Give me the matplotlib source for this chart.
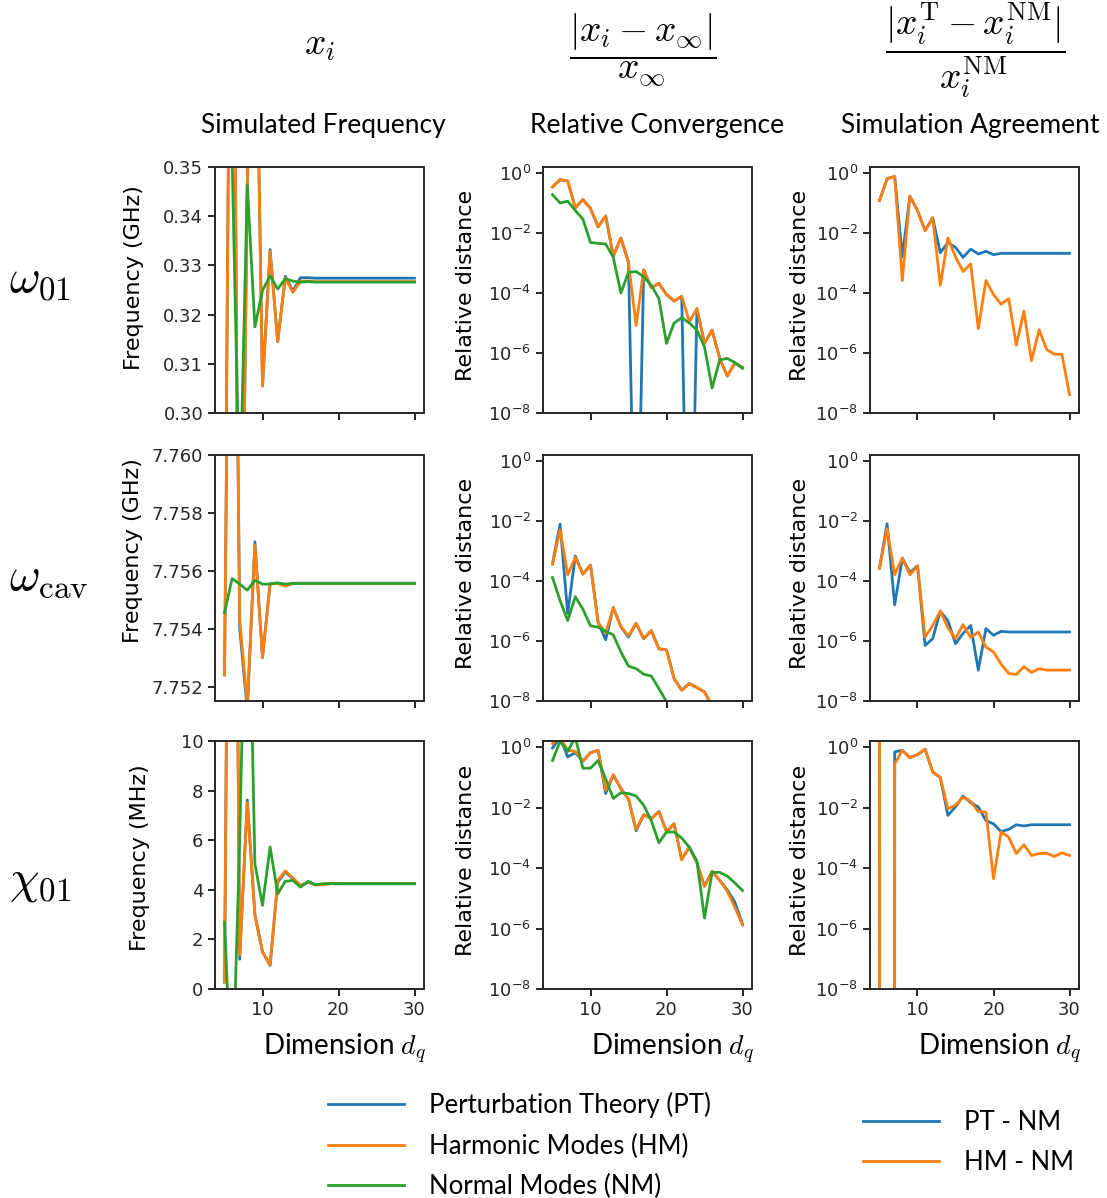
import numpy as np
import matplotlib
matplotlib.use("Agg")
from matplotlib import pyplot as plt

plt.rcParams['mathtext.fontset'] = 'cm'
plt.rcParams['axes.edgecolor'] = '#262626'
plt.rcParams['axes.linewidth'] = 1.4
plt.rcParams['xtick.color'] = '#262626'
plt.rcParams['ytick.color'] = '#262626'
plt.rcParams['xtick.major.width'] = 1.4
plt.rcParams['ytick.major.width'] = 1.4
plt.rcParams['xtick.major.size'] = 5
plt.rcParams['ytick.major.size'] = 5
plt.rcParams['xtick.labelsize'] = 13
plt.rcParams['ytick.labelsize'] = 13

dims = list(range(5, 31))

# omega_01 simulated frequency (GHz)
w01_pt = [0.25, 0.449, 0.219, 0.347, 0.40, 0.3055, 0.3332, 0.3145, 0.3278, 0.3248, 0.3275, 0.3275, 0.3274,
          0.3274, 0.3274, 0.3274, 0.3274, 0.3274, 0.3274, 0.3274, 0.3274, 0.3274, 0.3274, 0.3274, 0.3274, 0.3274]
w01_hm = [0.25, 0.449, 0.219, 0.347, 0.40, 0.3055, 0.3328, 0.3145, 0.3275, 0.3245, 0.3268, 0.3268, 0.3267,
          0.3267, 0.3267, 0.3267, 0.3267, 0.3267, 0.3267, 0.3267, 0.3267, 0.3267, 0.3267, 0.3267, 0.3267, 0.3267]
w01_nm = [0.37, 0.352, 0.28, 0.3464, 0.3175, 0.3249, 0.3279, 0.3252, 0.3273, 0.3268, 0.3266, 0.3267, 0.3266,
          0.3266, 0.3266, 0.3266, 0.3266, 0.3266, 0.3266, 0.3266, 0.3266, 0.3266, 0.3266, 0.3266, 0.3266, 0.3266]

# omega_cav simulated frequency (GHz)
wcav_pt = [7.7524, 7.780, 7.7540, 7.7512, 7.7570, 7.7530, 7.75556, 7.75557, 7.75548, 7.75557, 7.75557, 7.75557,
           7.75557, 7.75557, 7.75557, 7.75557, 7.75557, 7.75557, 7.75557, 7.75557, 7.75557, 7.75557, 7.75557,
           7.75557, 7.75557, 7.75557]
wcav_hm = [7.7524, 7.780, 7.7543, 7.7514, 7.7569, 7.7530, 7.75554, 7.75556, 7.75547, 7.75556, 7.75556, 7.75556,
           7.75556, 7.75556, 7.75556, 7.75556, 7.75556, 7.75556, 7.75556, 7.75556, 7.75556, 7.75556, 7.75556,
           7.75556, 7.75556, 7.75556]
wcav_nm = [7.75455, 7.75573, 7.75554, 7.75533, 7.75567, 7.75554, 7.75554, 7.75558, 7.75554, 7.75556, 7.75556,
           7.75556, 7.75556, 7.75556, 7.75556, 7.75556, 7.75556, 7.75556, 7.75556, 7.75556, 7.75556, 7.75556,
           7.75556, 7.75556, 7.75556, 7.75556]

# chi_01 simulated frequency (MHz)
chi_pt = [0.28, 40.0, 1.2, 7.62, 3.0, 1.5, 0.95, 4.3, 4.72, 4.45, 4.17, 4.3, 4.2, 4.22, 4.25,
          4.24, 4.24, 4.24, 4.24, 4.24, 4.24, 4.24, 4.24, 4.24, 4.24, 4.24]
chi_hm = [0.28, 40.0, 1.36, 7.5, 2.97, 1.49, 0.98, 4.38, 4.76, 4.48, 4.18, 4.31, 4.2, 4.2, 4.27,
          4.25, 4.25, 4.25, 4.25, 4.25, 4.25, 4.25, 4.25, 4.25, 4.25, 4.25]
chi_nm = [2.7, -4.5, 6.0, 20.0, 5.05, 3.37, 5.73, 3.84, 4.34, 4.38, 4.11, 4.34, 4.2, 4.25, 4.25,
          4.25, 4.25, 4.25, 4.25, 4.25, 4.25, 4.25, 4.25, 4.25, 4.25, 4.25]

# relative convergence
w01_conv_pt = [3.4e-1, 6.0e-1, 5.4e-1, 6.9e-2, 1.3e-1, 6.6e-2, 1.6e-2, 3.7e-2, 1.7e-3, 6.8e-3, 1.05e-3, 3e-16,
               5.9e-4, 1.5e-4, 2.1e-4, 8.9e-5, 5.4e-5, 7.8e-5, 1e-17, 3.0e-5, 2.1e-6, 5.8e-6, 6.6e-7, 1.7e-7,
               4.6e-7, 3.3e-7]
w01_conv_hm = [3.4e-1, 6.0e-1, 5.4e-1, 6.9e-2, 1.3e-1, 6.6e-2, 1.6e-2, 3.7e-2, 1.7e-3, 6.8e-3, 1.05e-3, 8.3e-6,
               5.9e-4, 1.5e-4, 2.1e-4, 8.9e-5, 5.4e-5, 7.8e-5, 1.1e-5, 3.0e-5, 2.1e-6, 5.8e-6, 6.6e-7, 1.7e-7,
               4.6e-7, 3.3e-7]
w01_conv_nm = [1.9e-1, 1.0e-1, 1.15e-1, 5.6e-2, 2.9e-2, 4.8e-3, 4.5e-3, 4.3e-3, 1.55e-3, 1.0e-4, 4.9e-4, 5.2e-4,
               3.5e-4, 1.8e-4, 6.5e-5, 2.1e-6, 1.0e-5, 1.5e-5, 1.0e-5, 5.8e-6, 1.6e-6, 6.8e-8, 5.9e-7, 6.6e-7,
               4.8e-7, 3.1e-7]

wcav_conv_pt = [3.7e-4, 7.9e-3, 8.3e-6, 6.8e-4, 1.7e-4, 3.4e-4, 4.2e-6, 1.1e-6, 1.3e-5, 3.0e-6, 1.35e-6, 3.9e-6,
                1.2e-6, 2.2e-6, 5.5e-7, 5.1e-7, 5.6e-8, 2.3e-8, 3.8e-8, 2.8e-8, 2.0e-8, 7e-9, 4e-9, 2.5e-9,
                1.5e-9, 1e-9]
wcav_conv_hm = [3.7e-4, 5.1e-3, 1.6e-4, 6.2e-4, 1.7e-4, 3.4e-4, 4.2e-6, 1.8e-6, 1.3e-5, 3.0e-6, 1.5e-6, 3.9e-6,
                1.2e-6, 2.2e-6, 5.5e-7, 5.1e-7, 5.6e-8, 2.3e-8, 3.8e-8, 2.8e-8, 2.0e-8, 7e-9, 4e-9, 2.5e-9,
                1.5e-9, 1e-9]
wcav_conv_nm = [1.3e-4, 2.2e-5, 4.8e-6, 3.0e-5, 1.15e-5, 3.2e-6, 2.9e-6, 2.1e-6, 1.6e-6, 4.3e-7, 1.45e-7, 1.2e-7,
                7.8e-8, 6.8e-8, 2.6e-8, 9.5e-9, 5e-9, 3e-9, 2e-9, 1.2e-9, 8e-10, 5e-10, 3e-10, 2e-10,
                1.2e-10, 8e-11]

chi_conv_pt = [9.3e-1, 2.1, 4.7e-1, 6.5e-1, 3.4e-1, 6.5e-1, 7.8e-1, 2.9e-2, 1.2e-1, 4.2e-2, 1.9e-2, 1.7e-3,
               5.8e-3, 4.3e-3, 7.4e-3, 1.6e-3, 2.9e-3, 1.9e-4, 4.9e-4, 1.5e-4, 2.5e-5, 7.8e-5, 3.9e-5, 1.9e-5,
               7.4e-6, 1.4e-6]
chi_conv_hm = [1.3, 2.1, 7.8e-1, 7.2e-1, 3.4e-1, 6.5e-1, 7.8e-1, 3.7e-2, 1.2e-1, 4.2e-2, 1.9e-2, 1.9e-3,
               5.8e-3, 4.3e-3, 7.4e-3, 1.6e-3, 2.9e-3, 1.9e-4, 4.9e-4, 1.5e-4, 2.5e-5, 7.8e-5, 3.9e-5, 1.7e-5,
               5.0e-6, 1.3e-6]
chi_conv_nm = [3.6e-1, 1.55, 7.2e-1, 2.1, 2.0e-1, 2.0e-1, 3.6e-1, 8.9e-2, 2.0e-2, 3.1e-2, 2.9e-2, 2.4e-2,
               1.2e-2, 3.7e-3, 6.8e-4, 1.55e-3, 1.55e-3, 9.8e-4, 4.9e-4, 1.7e-4, 2.2e-6, 7.2e-5, 7.2e-5, 5.4e-5,
               3.2e-5, 1.8e-5]

# simulation agreement with normal modes
w01_agree_pt = [1.2e-1, 6.5e-1, 7.6e-1, 1.6e-3, 1.7e-1, 5.6e-2, 1.2e-2, 3.2e-2, 2.2e-3, 4.8e-3, 3.3e-3, 1.55e-3,
                2.9e-3, 2.0e-3, 2.45e-3, 1.9e-3, 2.1e-3, 2.1e-3, 2.1e-3, 2.1e-3, 2.1e-3, 2.1e-3, 2.1e-3, 2.1e-3,
                2.1e-3, 2.1e-3]
w01_agree_hm = [1.2e-1, 6.5e-1, 7.6e-1, 2.6e-4, 1.7e-1, 5.6e-2, 1.2e-2, 3.2e-2, 1.8e-4, 6.8e-3, 1.6e-3, 5.2e-4,
                9.3e-4, 6.5e-6, 2.6e-4, 8.9e-5, 4.2e-5, 6.5e-5, 1.8e-6, 2.5e-5, 5.5e-7, 6.0e-6, 1.3e-6, 9.1e-7,
                9.1e-7, 4.1e-8]

wcav_agree_pt = [2.7e-4, 8.1e-3, 1.6e-5, 5.8e-4, 1.9e-4, 3.2e-4, 7.1e-7, 1.2e-6, 9.8e-6, 4.8e-6, 8.1e-7, 1.8e-6,
                 3.3e-6, 1.07e-7, 2.6e-6, 1.55e-6, 2.1e-6, 2.0e-6, 2.0e-6, 2.0e-6, 2.0e-6, 2.0e-6, 2.0e-6,
                 2.0e-6, 2.0e-6, 2.0e-6]
wcav_agree_hm = [2.7e-4, 5.6e-3, 1.6e-4, 5.8e-4, 1.6e-4, 3.2e-4, 1.35e-6, 3.3e-6, 1.0e-5, 2.75e-6, 1.2e-6, 3.5e-6,
                 1.3e-6, 2.0e-6, 6.3e-7, 4.3e-7, 1.7e-7, 8.3e-8, 7.6e-8, 1.4e-7, 8.9e-8, 1.2e-7, 1.07e-7,
                 1.07e-7, 1.07e-7, 1.07e-7]

chi_agree_pt = [3.0, 0.0, 6.9e-1, 7.8e-1, 4.5e-1, 5.6e-1, 8.5e-1, 1.5e-1, 9.8e-2, 5.5e-3, 1.05e-2, 2.4e-2,
                1.45e-2, 1.05e-2, 3.7e-3, 2.9e-3, 1.6e-3, 1.9e-3, 2.7e-3, 2.45e-3, 2.7e-3, 2.7e-3, 2.7e-3,
                2.7e-3, 2.7e-3, 2.7e-3]
chi_agree_hm = [3.0, 0.0, 2.8e-1, 7.8e-1, 4.5e-1, 5.6e-1, 8.5e-1, 1.5e-1, 9.8e-2, 9.1e-3, 1.2e-2, 2.2e-2,
                1.6e-2, 7.4e-3, 7.1e-3, 4.4e-5, 1.55e-3, 1.05e-3, 3.0e-4, 5.9e-4, 2.6e-4, 3.0e-4, 3.1e-4,
                2.4e-4, 3.2e-4, 2.6e-4]

freq_data = [(w01_pt, w01_hm, w01_nm), (wcav_pt, wcav_hm, wcav_nm), (chi_pt, chi_hm, chi_nm)]
conv_data = [(w01_conv_pt, w01_conv_hm, w01_conv_nm), (wcav_conv_pt, wcav_conv_hm, wcav_conv_nm),
             (chi_conv_pt, chi_conv_hm, chi_conv_nm)]
agree_data = [(w01_agree_pt, w01_agree_hm), (wcav_agree_pt, wcav_agree_hm), (chi_agree_pt, chi_agree_hm)]

freq_labels = ['Frequency (GHz)', 'Frequency (GHz)', 'Frequency (MHz)']
freq_lims = [(0.30, 0.35), (7.7515, 7.760), (0, 10)]
freq_ticks = [[0.30, 0.31, 0.32, 0.33, 0.34, 0.35], [7.752, 7.754, 7.756, 7.758, 7.760], [0, 2, 4, 6, 8, 10]]
freq_fmt = ['{:.2f}', '{:.3f}', '{:.0f}']
freq_pad = [14, 6, 22]
freq_label_y = [0.55, 0.61, 0.53]
row_names = [r'$\omega_{01}$', r'$\omega_{\rm cav}$', r'$\chi_{01}$']

W, H = 1107, 1198
fig = plt.figure(figsize=(W / 100, H / 100), dpi=100)

col_left = [215, 543, 870]
col_w = 209
row_top = [167, 455, 741]
row_h = [246, 246, 248]
colors = ['C0', 'C1', 'C2']
lw = 2.0

for r in range(3):
    axes = []
    for c in range(3):
        ax = fig.add_axes([col_left[c] / W, 1 - (row_top[r] + row_h[r]) / H, col_w / W, row_h[r] / H])
        axes.append(ax)
    # column 1: frequencies
    ax = axes[0]
    for k, ys in enumerate(freq_data[r]):
        ax.plot(dims, ys, color=colors[k], lw=lw)
    ax.set_ylim(*freq_lims[r])
    ax.set_yticks(freq_ticks[r])
    ax.set_yticklabels([freq_fmt[r].format(t) for t in freq_ticks[r]])
    ax.set_ylabel(freq_labels[r], fontsize=16, labelpad=freq_pad[r], y=freq_label_y[r])
    # column 2: convergence
    ax = axes[1]
    for k, ys in enumerate(conv_data[r]):
        ax.plot(dims, ys, color=colors[k], lw=lw)
    # column 3: agreement
    ax = axes[2]
    for k, ys in enumerate(agree_data[r]):
        ax.plot(dims, ys, color=colors[k], lw=lw)
    for c, ax in enumerate(axes[1:]):
        ax.set_yscale('log')
        ax.set_ylim(1e-8, 10 ** 0.2)
        ax.set_yticks([1e-8, 1e-6, 1e-4, 1e-2, 1e0])
        ax.yaxis.set_minor_locator(matplotlib.ticker.NullLocator())
        ax.set_ylabel('Relative distance', fontsize=16, labelpad=[9, 4][c], y=0.52)
    for ax in axes:
        ax.set_xlim(3.75, 31.25)
        ax.set_xticks([10, 20, 30])
        ax.tick_params(direction='out')
        if r < 2:
            ax.tick_params(labelbottom=False)
        else:
            ax.set_xlabel(r'Dimension $d_q$', fontsize=20, family='Lato', labelpad=9, x=0.62)
    fig.text(9 / W, 1 - [280, 577, 882][r] / H, row_names[r], fontsize=34,
             ha='left', va='center')

# column headers
fig.text(320 / W, 1 - 45 / H, r'$x_i$', fontsize=27, ha='center', va='center')
fig.text(643 / W, 1 - 50 / H, r'$\dfrac{|x_i - x_\infty|}{x_\infty}$', fontsize=27, ha='center', va='center')
fig.text(975 / W, 1 - 50 / H, r'$\dfrac{|x_i^{\rm T} - x_i^{\rm NM}|}{x_i^{\rm NM}}$', fontsize=27,
         ha='center', va='center')
for xc, txt in zip([323, 657, 970], ['Simulated Frequency', 'Relative Convergence', 'Simulation Agreement']):
    fig.text(xc / W, 1 - 125 / H, txt, fontsize=19, family='Lato', ha='center', va='center')

# legends
h1 = [plt.Line2D([], [], color=c, lw=lw) for c in colors]
fig.legend(h1, ['Perturbation Theory (PT)', 'Harmonic Modes (HM)', 'Normal Modes (NM)'],
           loc='upper left', bbox_to_anchor=(328 / W, 1 - 1092 / H), frameon=False,
           prop={'family': 'Lato', 'size': 18.5}, handlelength=2.95, handletextpad=1.0,
           labelspacing=0.6, borderpad=0, borderaxespad=0)
h2 = [plt.Line2D([], [], color=c, lw=lw) for c in colors[:2]]
fig.legend(h2, ['PT - NM', 'HM - NM'],
           loc='upper left', bbox_to_anchor=(863 / W, 1 - 1110 / H), frameon=False,
           prop={'family': 'Lato', 'size': 18.5}, handlelength=2.95, handletextpad=1.0,
           labelspacing=0.6, borderpad=0, borderaxespad=0)

fig.savefig('out.png', dpi=100)
